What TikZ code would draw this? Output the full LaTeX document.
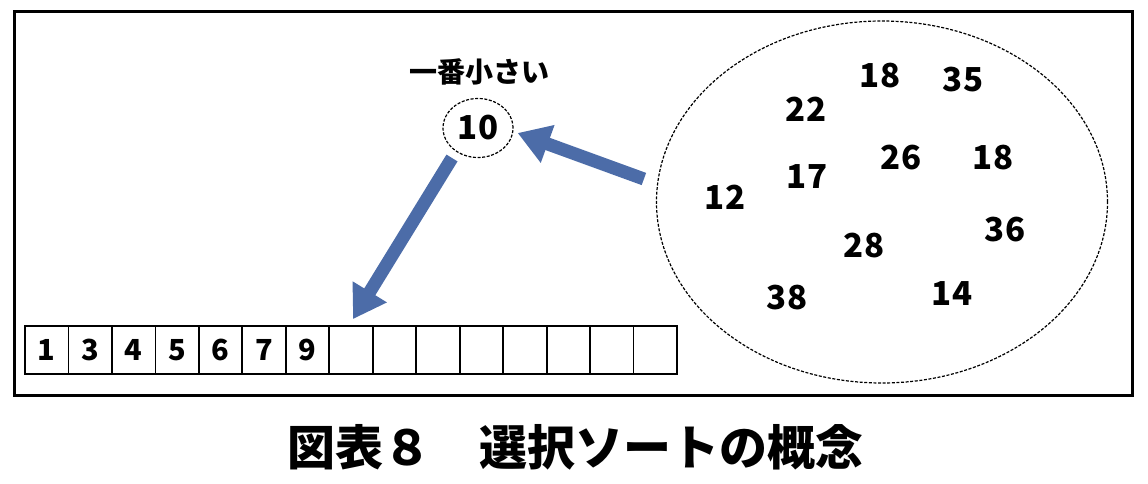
\documentclass[tikz,border=0pt]{standalone}
\usepackage{fontspec}
\setmainfont{Noto Sans CJK JP}
\usetikzlibrary{arrows.meta,shapes.geometric,calc}
\definecolor{arrowblue}{RGB}{76,108,168}
\tikzset{
  num/.style={font=\bfseries\fontsize{33}{33}\selectfont, inner sep=0pt},
  cell/.style={draw, line width=1.8pt, minimum width=43.47pt, minimum height=48pt, inner sep=0pt, font=\bfseries\fontsize{29}{29}\selectfont},
  bigarrow/.style={draw=arrowblue, line width=13pt, -{Triangle[width=38pt,length=32pt]}},
  dashedell/.style={draw, ellipse, dash pattern=on 3pt off 1.6pt, line width=1.2pt, inner sep=0pt}
}
\begin{document}
\begin{tikzpicture}[x=1pt,y=-1pt]
\useasboundingbox (0,0) rectangle (1148,484);
\node[draw, line width=3pt, minimum width=1118pt, minimum height=383pt, inner sep=0pt] (frame) at (573,203.5) {};
% array
\foreach \i/\t in {1/1,2/3,3/4,4/5,5/6,6/7,7/9,8/,9/,10/,11/,12/,13/,14/,15/}{
  \node[cell] (c\i) at ({25+(\i-0.5)*43.467},350) {\t};
}
% smallest element
\node[font=\bfseries\fontsize{28}{28}\selectfont] (lbl) at (479,72) {一番小さい};
\node[dashedell, num, minimum width=70pt, minimum height=59pt] (ten) at (478,128) {10};
% pool
\node[dashedell, minimum width=451pt, minimum height=362pt] (pool) at (882,202) {};
\node[num] (n1) at (880,76) {18};
\node[num] (n2) at (963,80) {35};
\node[num] (n3) at (806,109) {22};
\node[num] (n4) at (901,158) {26};
\node[num] (n5) at (993,158) {18};
\node[num] (n6) at (807,177) {17};
\node[num] (n7) at (725,197) {12};
\node[num] (n8) at (864,246) {28};
\node[num] (n9) at (1005,230) {36};
\node[num] (n10) at (787,298) {38};
\node[num] (n11) at (952,294) {14};
% arrows
\coordinate (a1s) at ($(pool.west)+(-12,-23)$);
\coordinate (a1e) at ($(ten.east)+(4,5)$);
\draw[bigarrow] (a1s) -- (a1e);
\coordinate (a2s) at ($(ten)+(-26,30)$);
\coordinate (a2e) at ($(c8.north)+(2,-6)$);
\draw[bigarrow] (a2s) -- (a2e);
% caption
\node[font=\bfseries\fontsize{48}{48}\selectfont] (cap) at (575,447) {図表８　選択ソートの概念};
\end{tikzpicture}
\end{document}
